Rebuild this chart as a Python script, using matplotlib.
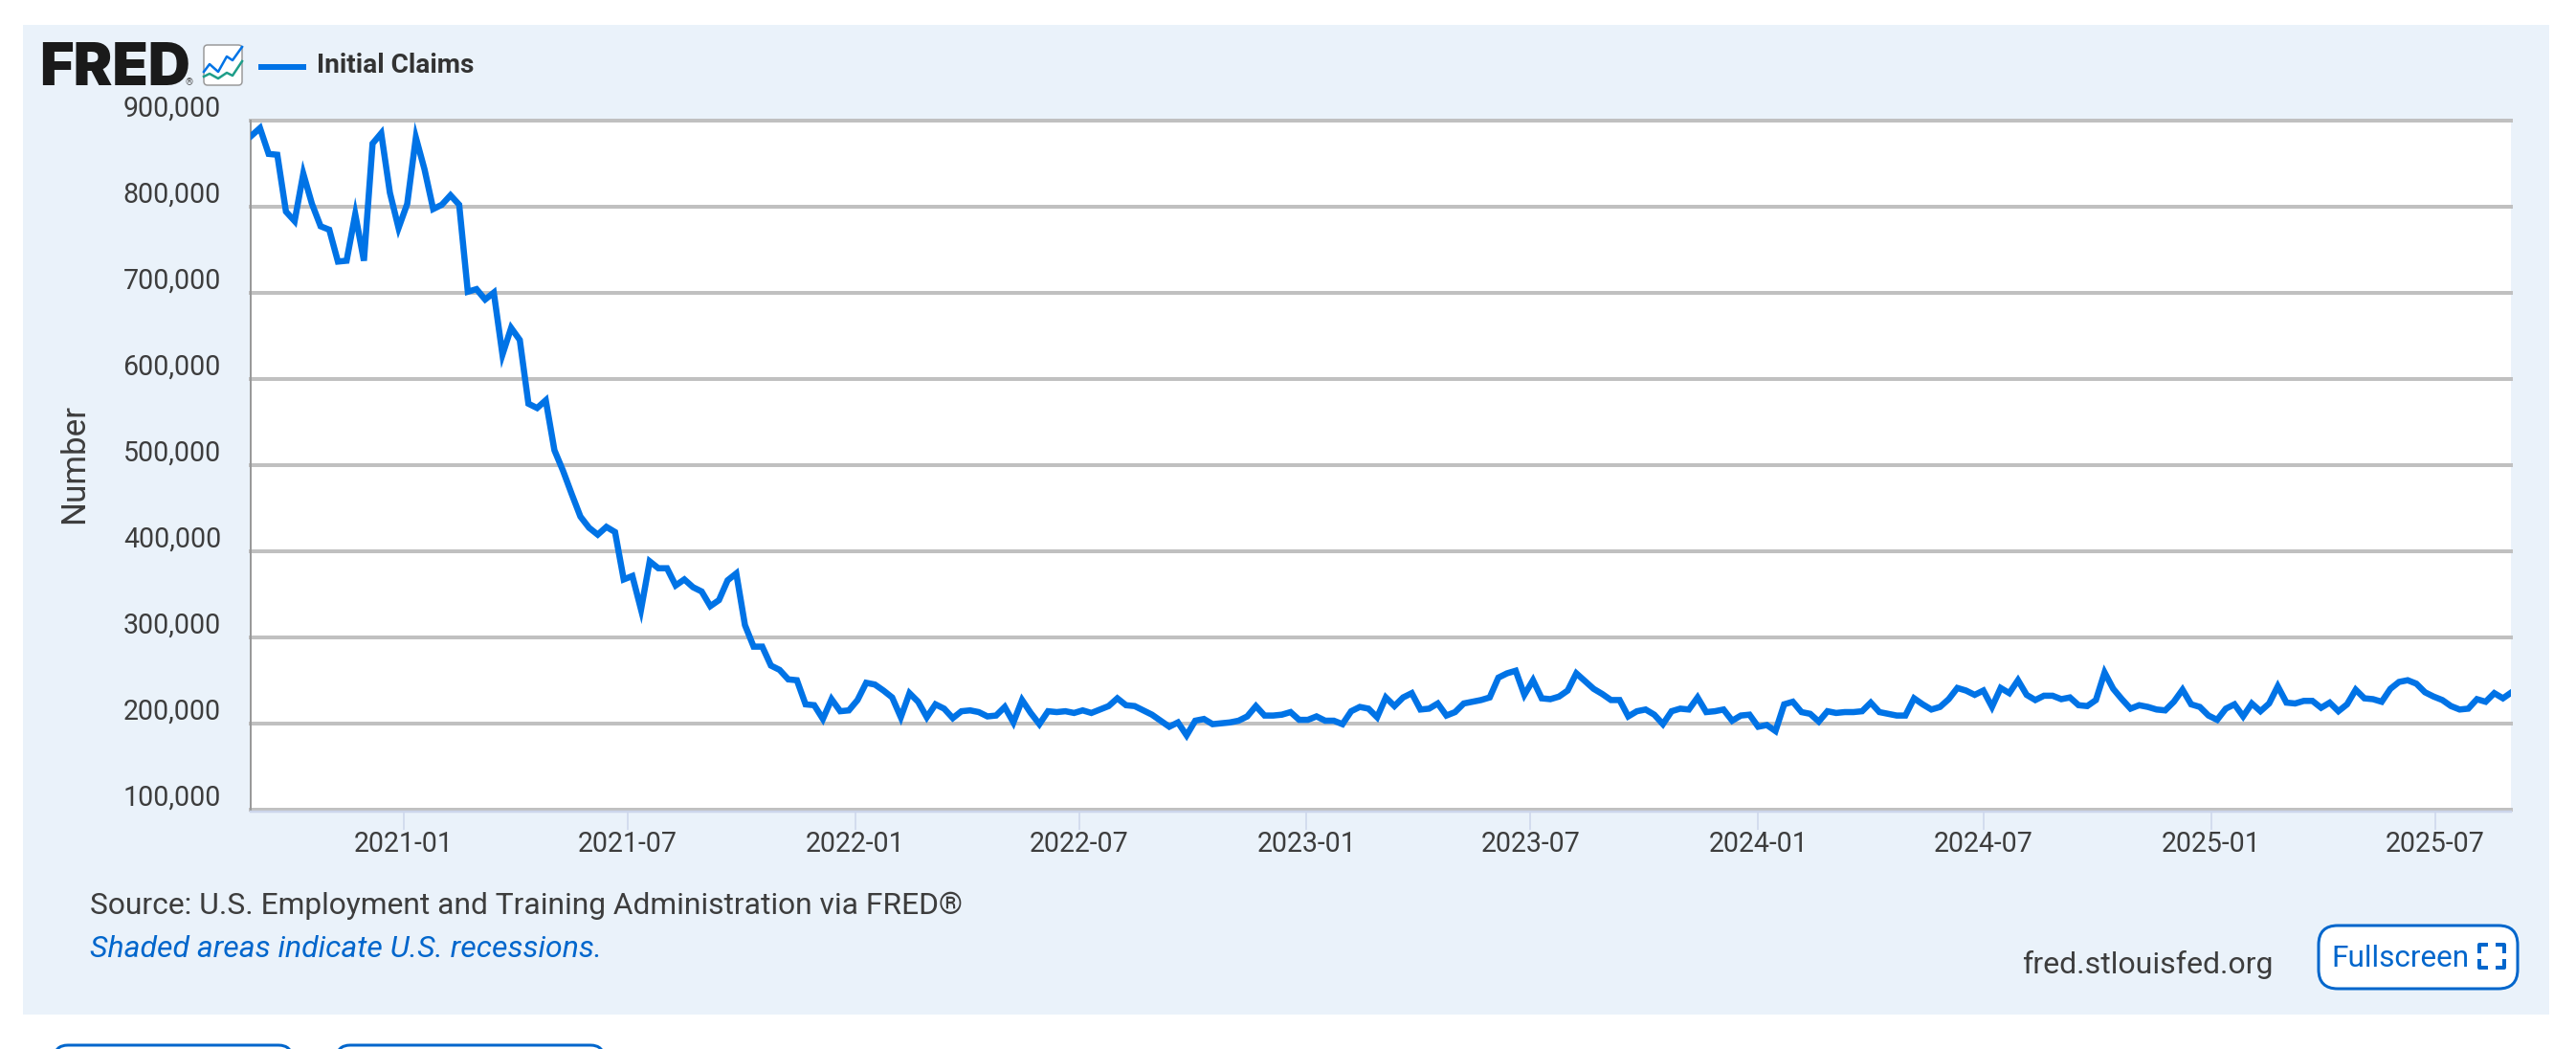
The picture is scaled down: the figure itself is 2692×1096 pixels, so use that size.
import matplotlib
matplotlib.use('Agg')
import matplotlib.pyplot as plt
import matplotlib.dates as mdates
from matplotlib.patches import FancyBboxPatch, Rectangle
from matplotlib.transforms import ScaledTranslation
import pandas as pd

# weekly initial claims in thousands
claims_k = [
    882, 891, 861, 860, 794, 783, 838, 803, 777, 773, 736, 737, 791, 737, 873, 885,
    816, 775, 803, 880, 843, 797, 802, 813, 802, 701, 704, 692, 700, 628, 659, 645,
    571, 566, 575, 517, 493, 466, 440, 427, 419, 428, 422, 367, 371, 332, 388, 380,
    380, 360, 367, 358, 353, 336, 343, 366, 374, 314, 289, 289, 267, 262, 251, 250,
    222, 221, 205, 228, 214, 215, 227, 247, 245, 238, 230, 207, 235, 225, 207, 222,
    217, 206, 214, 215, 213, 208, 209, 219, 201, 227, 212, 199, 214, 213, 214, 212,
    215, 212, 216, 220, 229, 221, 220, 215, 210, 203, 196, 201, 186, 203, 205, 199,
    200, 201, 203, 208, 220, 209, 209, 210, 213, 204, 204, 208, 203, 203, 199, 214,
    219, 217, 207, 230, 220, 230, 235, 216, 217, 223, 209, 213, 223, 225, 227, 230,
    253, 258, 261, 233, 250, 229, 228, 231, 238, 258, 249, 240, 234, 227, 227, 208,
    214, 216, 210, 199, 214, 217, 216, 230, 213, 214, 216, 203, 209, 210, 196, 198,
    191, 222, 225, 213, 211, 202, 214, 212, 213, 213, 214, 224, 213, 211, 209, 209,
    229, 222, 216, 219, 228, 241, 238, 233, 238, 219, 241, 235, 250, 233, 227, 232,
    232, 228, 230, 221, 220, 227, 259, 240, 228, 217, 221, 219, 216, 215, 225, 239,
    222, 219, 209, 204, 217, 222, 208, 223, 214, 223, 243, 224, 223, 226, 226, 218,
    224, 214, 222, 239, 229, 228, 225, 240, 248, 250, 246, 236, 231, 227, 220, 216,
    217, 228, 225, 235, 229, 236,
]
week_dates = pd.date_range('2020-08-31', periods=len(claims_k), freq='7D')
y_ticks = [100000, 200000, 300000, 400000, 500000, 600000, 700000, 800000, 900000]
x_tick_labels = ['2021-01', '2021-07', '2022-01', '2022-07', '2023-01', '2023-07',
                 '2024-01', '2024-07', '2025-01', '2025-07']

W, H = 2692, 1096
TEXT = '#3d3d3d'
BLUE = '#0073e6'
LINK = '#0066cc'
plt.rcParams['font.family'] = ['Roboto', 'DejaVu Sans']


def pt(px):
    return px * 0.72


fig = plt.figure(figsize=(W / 100, H / 100), dpi=100, facecolor='white')

# page layer, in pixel coordinates
page = fig.add_axes([0, 0, 1, 1])
page.set_xlim(0, W)
page.set_ylim(H, 0)
page.axis('off')
page.add_patch(Rectangle((24, 26), 2640, 1034, fc='#eaf2fa', ec='none'))

page.text(41, 89, 'FRED', fontsize=pt(61), fontweight='black', family=['Inter', 'Roboto'],
          color='#1a1a1a', va='baseline', ha='left')
page.text(194, 89, '®', fontsize=pt(10), color='#555555', va='baseline')
page.add_patch(FancyBboxPatch((213, 47), 40, 42, boxstyle='round,pad=0,rounding_size=4',
                              fc='white', ec='#999999', lw=pt(1.5)))
page.plot([213, 219, 228, 237, 243, 253], [75, 67, 75, 59, 63, 49], color=BLUE, lw=pt(2.5))
page.plot([213, 219, 228, 237, 243, 253], [80, 77, 82, 76, 79, 64], color='#1f9e89', lw=pt(2.5))
page.plot([270, 320], [70, 70], color=BLUE, lw=pt(6), solid_capstyle='butt')
page.text(331, 69, 'Initial Claims', fontsize=pt(28), fontweight='bold', color='#333333', va='center', ha='left')

page.text(78, 484, 'Number', fontsize=pt(35), color=TEXT, rotation=90, va='center', ha='center')
page.text(94, 946, 'Source: U.S. Employment and Training Administration via FRED®', fontsize=pt(31.8),
          color=TEXT, va='center', ha='left')
page.text(94, 992, 'Shaded areas indicate U.S. recessions.', fontsize=pt(32), style='italic',
          color=LINK, va='center', ha='left')
page.text(2376, 1008, 'fred.stlouisfed.org', fontsize=pt(32), color=TEXT, va='center', ha='right')

# fullscreen button
page.add_patch(FancyBboxPatch((2423, 967), 208, 66, boxstyle='round,pad=0,rounding_size=20',
                              fc='white', ec=LINK, lw=pt(3)))
page.text(2436, 1002, 'Fullscreen', fontsize=pt(31.5), color=LINK, va='center', ha='left')
for cx, sx in [(2591, 1), (2617, -1)]:
    for cy, sy in [(987, 1), (1011, -1)]:
        page.plot([cx, cx, cx + sx * 9], [cy + sy * 9, cy, cy], color=LINK, lw=pt(4), solid_capstyle='butt')

# the two buttons cut off at the bottom of the page
for bx, bw in [(57, 248), (352, 279)]:
    page.add_patch(FancyBboxPatch((bx, 1092), bw, 40, boxstyle='round,pad=0,rounding_size=14',
                                  fc='white', ec=LINK, lw=pt(3)))

# chart
ax = fig.add_axes([262 / W, 1 - 845.7 / H, (2624 - 262) / W, 720 / H], facecolor='white')
ax.plot(week_dates, [v * 1000 for v in claims_k], color=BLUE, lw=pt(6.5), solid_joinstyle='miter', zorder=3)

px_per_day = 9.05 / 7
ax.set_xlim(mdates.date2num(week_dates[0]) - 0.5, mdates.date2num(week_dates[0]) - 0.5 + 2362 / px_per_day)
ax.set_ylim(100000, 900000)

ax.set_yticks(y_ticks)
ax.set_yticklabels(['{:,}'.format(v) for v in y_ticks])
ax.set_xticks(pd.to_datetime([s + '-01' for s in x_tick_labels]))
ax.set_xticklabels(x_tick_labels)

ax.grid(axis='y', color='#c0c0c0', lw=pt(4))
for gl in ax.get_ygridlines():
    gl.set_clip_on(False)
ax.set_axisbelow(True)

ax.tick_params(axis='y', length=0, pad=pt(31), labelsize=pt(28.5), labelcolor=TEXT)
ax.tick_params(axis='x', length=pt(19), width=pt(1.5), color='#ccd6eb', pad=pt(1), labelsize=pt(28.5), labelcolor=TEXT)

raise_labels = ScaledTranslation(0, 15 / 100, fig.dpi_scale_trans)
for label in ax.get_yticklabels():
    label.set_transform(label.get_transform() + raise_labels)

for side in ['top', 'right']:
    ax.spines[side].set_visible(False)
ax.spines['left'].set_color('#999999')
ax.spines['left'].set_linewidth(pt(2))
ax.spines['bottom'].set_color('#ccd6eb')
ax.spines['bottom'].set_linewidth(pt(2.5))
ax.spines['bottom'].set_position(('outward', pt(2)))

fig.savefig('out.png', dpi=100)
